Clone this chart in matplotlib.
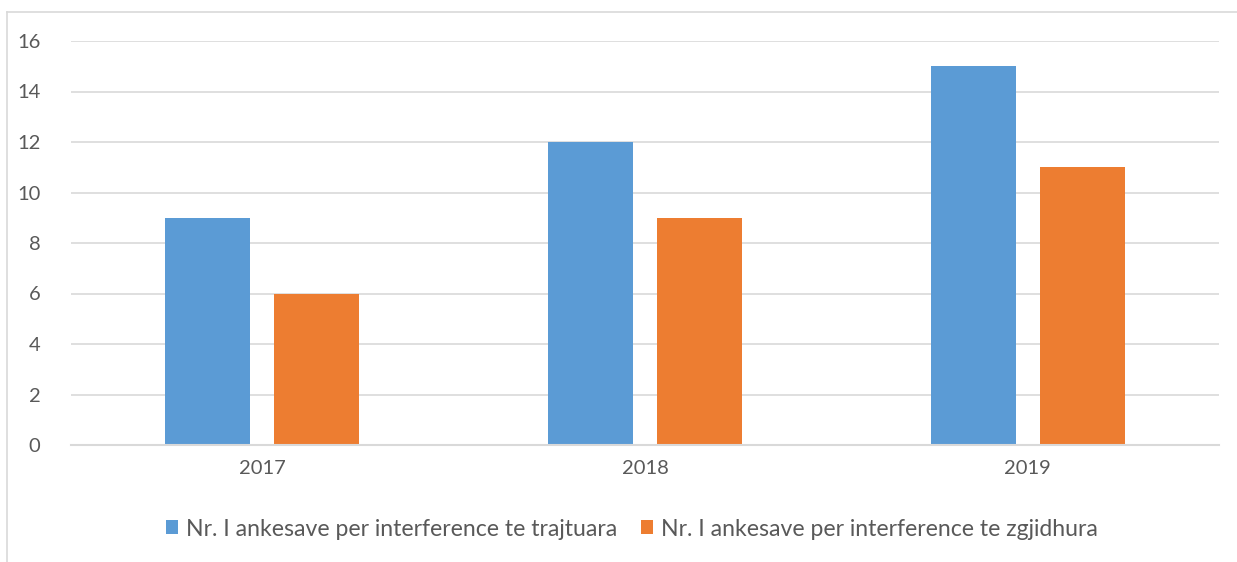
import matplotlib.pyplot as plt
from matplotlib.lines import Line2D
import numpy as np

years = ['2017', '2018', '2019']
trajtuara = [9, 12, 15]
zgjidhura = [6, 9, 11]
labels = ['Nr. I ankesave per interference te trajtuara',
          'Nr. I ankesave per interference te zgjidhura']

plt.rcParams['font.family'] = ['Lato', 'DejaVu Sans']

fig = plt.figure(figsize=(12.37, 5.62), dpi=100)
ax = fig.add_axes([71 / 1237, 1 - 445 / 562, (1219 - 71) / 1237, (445 - 41) / 562])

x = np.arange(len(years))
w = 0.222
off = 0.1425
ax.bar(x - off, trajtuara, w, color='#5B9BD5', label=labels[0])
ax.bar(x + off, zgjidhura, w, color='#ED7D31', label=labels[1])

ax.set_xlim(-0.5, 2.5)
ax.set_ylim(0, 16)
ax.set_yticks(range(0, 17, 2))
ax.set_xticks(x)
ax.set_xticklabels(years)
ax.grid(axis='y', color='#D9D9D9', linewidth=1.2)
ax.set_axisbelow(True)
for s in ['top', 'right', 'left']:
    ax.spines[s].set_visible(False)
ax.spines['bottom'].set_color('#D9D9D9')
ax.spines['bottom'].set_linewidth(1.5)
ax.tick_params(axis='both', length=0, labelsize=14.5, labelcolor='#595959')
ax.tick_params(axis='y', pad=22)
ax.tick_params(axis='x', pad=11)

ax.legend(loc='center', bbox_to_anchor=(632 / 1237, 1 - 529 / 562),
          bbox_transform=fig.transFigure, ncol=2, frameon=False,
          fontsize=16.6, labelcolor='#595959', handlelength=0.55, handleheight=0.55,
          handletextpad=0.35, columnspacing=1.0)

# chart frame on the left and top edges
fig.add_artist(Line2D([7.5 / 1237, 7.5 / 1237], [0, 1 - 11.5 / 562],
                      transform=fig.transFigure, color='#D9D9D9', linewidth=1.2))
fig.add_artist(Line2D([7.5 / 1237, 1], [1 - 11.5 / 562, 1 - 11.5 / 562],
                      transform=fig.transFigure, color='#D9D9D9', linewidth=1.2))

fig.savefig('out.png', dpi=100)
